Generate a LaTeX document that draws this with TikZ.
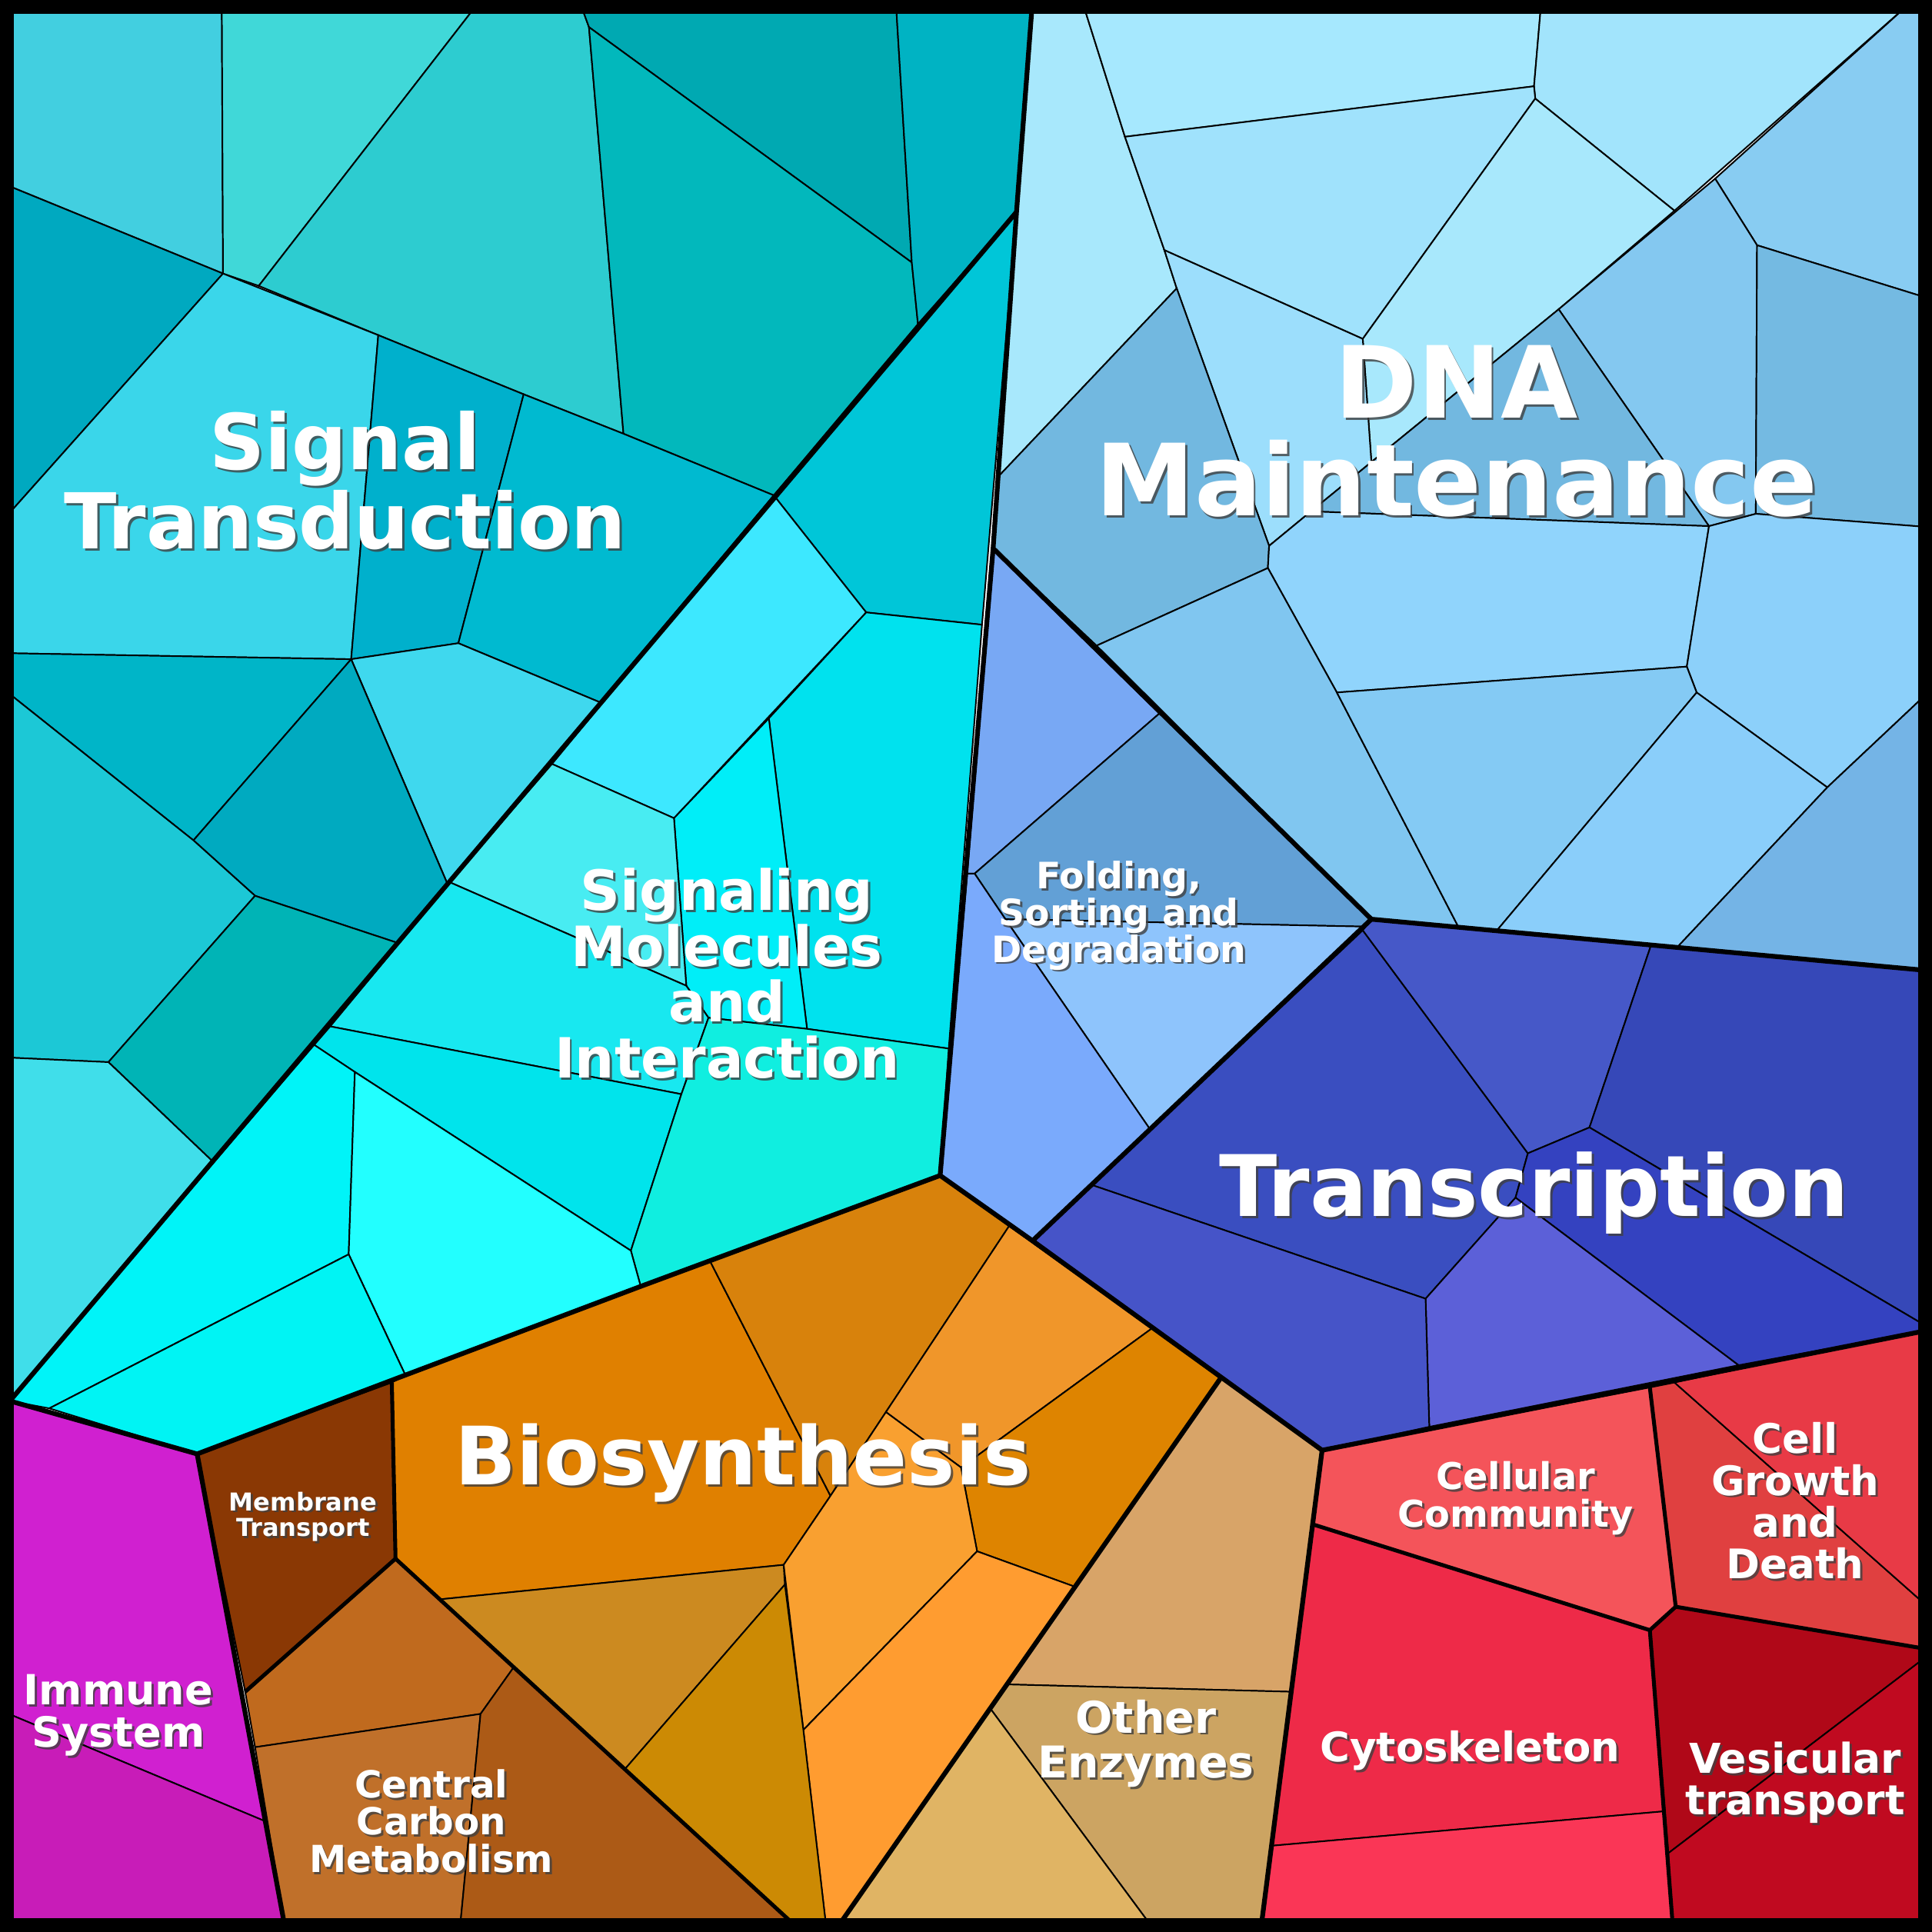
\documentclass[tikz,border=0pt]{standalone}
\usepackage{fontspec}
\setmainfont{DejaVu Sans}
\begin{document}
\newcommand\cell[2]{\definecolor{tmpc}{HTML}{#1}\filldraw[fill=tmpc,draw=black,line width=0.35pt] #2 -- cycle;}
\newcommand\lbl[4]{%
 \node[lab,font={\bfseries\fontsize#3\selectfont},text=black!75,opacity=.8] at ([shift={(1.8,1.8)}]#1) {#4};
 \node[lab,font={\bfseries\fontsize#3\selectfont}] (#2) at (#1) {#4};}
\begin{tikzpicture}[x=0.1mm,y=-0.1mm,
  lab/.style={text=white,align=center,inner sep=0pt},
  grp/.style={draw=black,line width=1.1pt,line join=round},
  sub/.style={draw=black,line width=0.9pt,line join=round}]
\useasboundingbox (0,0) rectangle (1568,1568);
% Signal Transduction
\cell{42CFE0}{(0,0)--(180,0)--(181,222)--(0,148)}
\cell{40D8D8}{(180,0)--(390,0)--(210,232)--(181,222)}
\cell{2DCCD0}{(390,0)--(470,0)--(478,22)--(506,352)--(425,320)--(307,272)--(210,232)}
\cell{00A9B2}{(470,0)--(727,0)--(740,213)--(478,22)}
\cell{02B8BC}{(478,22)--(740,213)--(745,263)--(628,402)--(506,352)}
\cell{00B3C3}{(727,0)--(838,0)--(825,172)--(745,263)--(740,213)}
\cell{00A9C0}{(0,148)--(181,222)--(0,425)}
\cell{3AD6EA}{(181,222)--(307,272)--(285,535)--(0,530)--(0,425)}
\cell{00B0CC}{(307,272)--(425,320)--(372,522)--(285,535)}
\cell{00BAD0}{(425,320)--(506,352)--(628,402)--(487,570)--(372,522)}
\cell{00B5C8}{(0,530)--(285,535)--(157,682)--(0,557)}
\cell{3FD8EE}{(285,535)--(372,522)--(487,570)--(363,717)}
\cell{00AAC0}{(285,535)--(363,717)--(322,765)--(207,727)--(157,682)}
\cell{1CC8D6}{(0,557)--(157,682)--(207,727)--(88,862)--(0,858)}
\cell{00B4B6}{(207,727)--(322,765)--(172,942)--(88,862)}
\cell{40DEEA}{(0,858)--(88,862)--(172,942)--(8,1137)--(0,1137)}
% Signaling Molecules
\cell{00C6D8}{(628,402)--(825,172)--(797,507)--(703,497)}
\cell{3DE8FF}{(628,402)--(703,497)--(547,664)--(448,620)}
\cell{00E2EE}{(703,497)--(797,507)--(770,851)--(655,835)--(624,583)}
\cell{00EEF8}{(624,583)--(655,835)--(575,826)--(557,800)--(547,664)}
\cell{48ECF2}{(448,620)--(547,664)--(557,800)--(365,716)}
\cell{18E8F0}{(365,716)--(557,800)--(575,826)--(553,888)--(268,833)}
\cell{00E4EC}{(268,833)--(553,888)--(512,1015)--(288,870)--(255,848)}
\cell{10EEE0}{(553,888)--(575,826)--(655,835)--(770,851)--(763,954)--(520,1044)--(512,1015)}
\cell{00F4F8}{(255,848)--(288,870)--(283,1018)--(40,1143)--(8,1137)}
\cell{22FFFF}{(288,870)--(512,1015)--(520,1044)--(329,1116)--(283,1018)}
\cell{00F4F4}{(283,1018)--(329,1116)--(160,1180)--(40,1143)}
% DNA Maintenance
\cell{A8E8FC}{(838,0)--(878,0)--(913,111)--(945,203)--(955,234)--(810,387)}
\cell{A6E8FE}{(878,0)--(1251,0)--(1245,70)--(913,111)}
\cell{A2E4FC}{(1251,0)--(1553,0)--(1359,171)--(1246,80)--(1245,70)}
\cell{A0E2FC}{(913,111)--(1245,70)--(1246,80)--(1106,275)--(945,203)}
\cell{A8E8FC}{(1246,80)--(1359,171)--(1265,251)--(1113,375)--(1106,275)}
\cell{9CDEFC}{(945,203)--(1106,275)--(1113,375)--(1064,415)--(1030,443)--(955,234)}
\cell{72B8E0}{(955,234)--(1030,443)--(1029,461)--(890,524)--(806,445)--(810,387)}
\cell{88CCF2}{(1553,0)--(1568,0)--(1568,243)--(1426,199)--(1392,145)}
\cell{84C8F0}{(1392,145)--(1426,199)--(1425,417)--(1387,427)--(1265,251)}
\cell{72B8E0}{(1265,251)--(1387,427)--(1064,415)--(1113,375)}
\cell{74BAE2}{(1426,199)--(1568,243)--(1568,428)--(1425,417)}
\cell{90D4FC}{(1030,443)--(1064,415)--(1387,427)--(1369,541)--(1085,562)--(1029,461)}
\cell{8CD0FA}{(1387,427)--(1425,417)--(1568,428)--(1568,559)--(1483,639)--(1377,562)--(1369,541)}
\cell{80C6F0}{(890,524)--(1029,461)--(1085,562)--(1184,753)--(1113,746)}
\cell{84CAF4}{(1085,562)--(1369,541)--(1377,562)--(1215,755)--(1184,753)}
\cell{8ACEFA}{(1377,562)--(1483,639)--(1361,769)--(1215,755)}
\cell{74B4E6}{(1483,639)--(1568,559)--(1568,788)--(1361,769)}
% Folding
\cell{78A8F4}{(806,445)--(941,579)--(791,709)--(785,709)}
\cell{62A0D6}{(941,579)--(1113,746)--(1107,752)--(816,746)--(791,709)}
\cell{8EC4FC}{(816,746)--(1107,752)--(933,916)}
\cell{7AAAFC}{(785,709)--(791,709)--(816,746)--(933,916)--(838,1007)--(763,954)}
% Transcription
\cell{3A4EC0}{(1106,755)--(1240,936)--(1230,972)--(1157,1054)--(887,962)--(838,1007)}
\cell{4658C8}{(1106,755)--(1113,746)--(1340,767)--(1290,915)--(1240,936)}
\cell{3648B8}{(1340,767)--(1568,788)--(1568,1079)--(1290,915)}
\cell{3442C0}{(1240,936)--(1290,915)--(1568,1079)--(1411,1108)--(1230,972)}
\cell{5C60D8}{(1230,972)--(1411,1108)--(1160,1158)--(1157,1054)}
\cell{4654C8}{(887,962)--(1157,1054)--(1160,1158)--(1073,1177)--(838,1007)}
% Biosynthesis
\cell{E08000}{(318,1122)--(329,1116)--(520,1044)--(576,1023)--(674,1214)--(636,1270)--(357,1298)--(321,1265)}
\cell{D8820C}{(576,1023)--(763,954)--(819,995)--(719,1146)--(674,1214)}
\cell{F0962A}{(819,995)--(935,1078)--(780,1191)--(719,1146)}
\cell{DE8400}{(935,1078)--(991,1118)--(873,1288)--(793,1259)--(780,1191)}
\cell{F9A030}{(719,1146)--(780,1191)--(793,1259)--(652,1404)--(636,1270)--(674,1214)}
\cell{FF9C30}{(793,1259)--(873,1288)--(677,1568)--(671,1568)--(652,1404)}
\cell{CC8A20}{(357,1298)--(636,1270)--(637,1286)--(507,1436)}
\cell{CC8A04}{(637,1286)--(652,1404)--(671,1568)--(651,1568)--(507,1436)}
% Central carbon, membrane
\cell{C06A1E}{(321,1265)--(417,1353)--(390,1391)--(207,1418)--(199,1373)}
\cell{C0702A}{(207,1418)--(390,1391)--(373,1568)--(232,1568)}
\cell{AC5A16}{(417,1353)--(651,1568)--(373,1568)--(390,1391)}
\cell{8A3804}{(160,1180)--(318,1122)--(321,1265)--(199,1373)}
% Other enzymes
\cell{D8A468}{(991,1118)--(1073,1177)--(1048,1373)--(816,1367)}
\cell{CCA462}{(816,1367)--(1048,1373)--(1023,1568)--(938,1568)--(804,1387)}
\cell{E0B464}{(804,1387)--(938,1568)--(677,1568)}
% Immune
\cell{D020D0}{(8,1137)--(160,1180)--(215,1478)--(0,1388)--(0,1137)}
\cell{C81CB8}{(0,1388)--(215,1478)--(232,1568)--(0,1568)}
% Red group
\cell{F4545A}{(1073,1177)--(1339,1126)--(1360,1304)--(1339,1323)--(1065,1237)}
\cell{E04040}{(1339,1126)--(1359,1122)--(1568,1307)--(1568,1339)--(1360,1304)}
\cell{E83A46}{(1359,1122)--(1568,1078)--(1568,1307)}
\cell{B00818}{(1339,1323)--(1360,1304)--(1568,1339)--(1568,1341)--(1354,1504)}
\cell{C00A20}{(1568,1341)--(1568,1568)--(1358,1568)--(1354,1504)}
\cell{EE2A48}{(1065,1237)--(1339,1323)--(1351,1470)--(1032,1498)}
\cell{FA3656}{(1032,1498)--(1351,1470)--(1358,1568)--(1023,1568)}
% group boundaries
\draw[grp] (838,0)--(825,172)--(806,445)--(763,954);
\draw[grp] (825,172)--(8,1137);
\draw[grp] (806,445)--(1113,746)--(1568,788);
\draw[grp] (1113,746)--(838,1007);
\draw[grp] (763,954)--(838,1007)--(1073,1177)--(1568,1079);
\draw[grp] (763,954)--(520,1044)--(329,1116)--(160,1180)--(8,1137)--(0,1137);
\draw[grp] (160,1180)--(232,1568);
\draw[grp] (1073,1177)--(1023,1568);
\draw[grp] (991,1118)--(677,1568);
\draw[sub] (318,1122)--(321,1265)--(199,1373);
\draw[sub] (321,1265)--(651,1568);
\draw[sub] (1339,1126)--(1360,1304)--(1339,1323)--(1065,1237);
\draw[sub] (1360,1304)--(1568,1339);
\draw[sub] (1339,1323)--(1358,1568);
\draw[line width=2.2mm] (0,0) rectangle (1568,1568);
% labels
\lbl{1182,350}{dna}{{23}{22.7}}{DNA\\Maintenance}
\lbl{280,390}{sig}{{17.8}{17}}{Signal\\Transduction}
\lbl{590,790}{smi}{{12.8}{12.9}}{Signaling\\Molecules\\and\\Interaction}
\lbl{908,743}{fold}{{8.4}{8.5}}{Folding,\\Sorting and\\Degradation}
\lbl{1245,968}{tr}{{19.6}{20}}{Transcription}
\lbl{603,1187}{bio}{{18.6}{19}}{Biosynthesis}
\lbl{246,1231}{mem}{{5.7}{6}}{Membrane\\Transport}
\lbl{96,1392}{imm}{{9.6}{9.7}}{Immune\\System}
\lbl{350,1478}{ccm}{{8.6}{8.6}}{Central\\Carbon\\Metabolism}
\lbl{930,1415}{oe}{{10.1}{10.4}}{Other\\Enzymes}
\lbl{1230,1216}{cc}{{8.5}{8.8}}{Cellular\\Community}
\lbl{1457,1218}{cgd}{{9.4}{9.6}}{Cell\\Growth\\and\\Death}
\lbl{1193,1421}{cyt}{{9.4}{10}}{Cytoskeleton}
\lbl{1457,1447}{ves}{{9.5}{9.6}}{Vesicular\\transport}
\end{tikzpicture}
\end{document}
